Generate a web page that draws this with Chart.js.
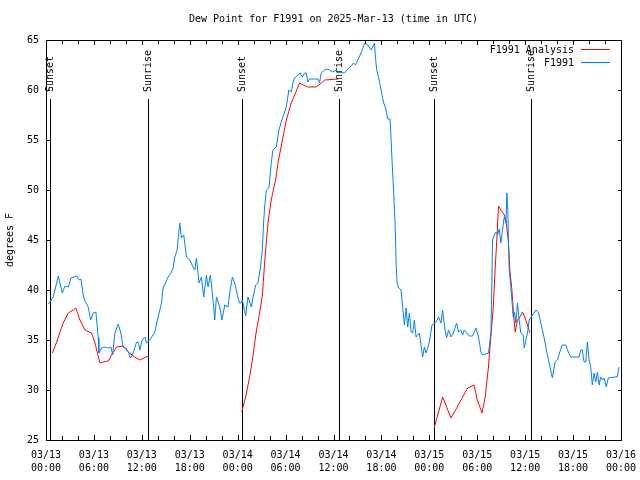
<!DOCTYPE html>
<html>
<head>
<meta charset="utf-8">
<title>Dew Point for F1991</title>
<script src="https://cdn.jsdelivr.net/npm/chart.js@4.4.1/dist/chart.umd.min.js"></script>
<style>
  html, body { margin: 0; padding: 0; background: #fff; }
</style>
</head>
<body>
<canvas id="dewChart" width="640" height="480"></canvas>
<script>
(function () {
  "use strict";

  const FONT = '"DejaVu Sans Mono", "Liberation Mono", monospace';

  const titleText = 'Dew Point for F1991 on 2025-Mar-13 (time in UTC)';
  const yAxisLabel = 'degrees F';

  // hours since 03/13 00:00 UTC
  const xTickLabels = [
    ['03/13', '00:00'], ['03/13', '06:00'], ['03/13', '12:00'], ['03/13', '18:00'],
    ['03/14', '00:00'], ['03/14', '06:00'], ['03/14', '12:00'], ['03/14', '18:00'],
    ['03/15', '00:00'], ['03/15', '06:00'], ['03/15', '12:00'], ['03/15', '18:00'],
    ['03/16', '00:00']
  ];

  const sunHours = [0.5, 12.77, 24.54, 36.69, 48.59, 60.73];
  const sunLabels = ['Sunset', 'Sunrise', 'Sunset', 'Sunrise', 'Sunset', 'Sunrise'];

  const seriesNames = ['F1991 Analysis', 'F1991'];

  // F1991 observations
  const obsHours = [
    0.29, 0.91, 1.54, 2.04, 2.38, 2.79, 3.13, 3.84, 4.16, 4.38, 4.66, 4.88, 5.29, 5.59, 5.91, 6.25,
    6.54, 6.62, 6.96, 7.38, 7.79, 8.13, 8.34, 8.63, 9.04, 9.34, 9.66, 10.0, 10.29, 10.59, 10.91, 11.34,
    11.59, 11.75, 12.04, 12.38, 12.59, 13.0, 13.63, 14.04, 14.46, 14.66, 15.29, 15.71, 15.91, 16.13, 16.41, 16.75,
    16.96, 17.25, 17.59, 18.0, 18.41, 18.63, 18.84, 19.16, 19.46, 19.75, 20.09, 20.29, 20.59, 20.91, 21.13, 21.34,
    21.75, 22.04, 22.38, 22.79, 23.0, 23.34, 23.63, 24.04, 24.25, 24.46, 24.59, 25.0, 25.29, 25.71, 25.91, 26.25,
    26.54, 26.84, 27.09, 27.25, 27.38, 27.59, 27.91, 28.21, 28.41, 28.84, 29.16, 29.46, 29.88, 30.09, 30.41, 30.71,
    31.0, 31.25, 31.54, 31.84, 32.09, 32.38, 32.59, 32.79, 33.0, 33.63, 34.04, 34.25, 34.46, 34.88, 35.29, 35.5,
    35.91, 36.34, 36.54, 36.96, 37.38, 37.79, 38.21, 38.5, 38.75, 39.04, 39.34, 39.59, 39.88, 40.29, 40.71, 40.91,
    41.13, 41.25, 41.41, 41.66, 41.96, 42.25, 42.59, 42.79, 43.09, 43.21, 43.34, 43.5, 43.71, 43.84, 43.96, 44.16,
    44.46, 44.66, 44.88, 45.09, 45.29, 45.5, 45.71, 45.91, 46.13, 46.34, 46.75, 46.96, 47.16, 47.38, 47.59, 47.79,
    48.0, 48.34, 48.84, 49.16, 49.46, 49.66, 49.96, 50.16, 50.41, 50.71, 51.0, 51.41, 51.66, 51.96, 52.16, 52.38,
    52.59, 53.0, 53.41, 53.84, 54.16, 54.46, 54.66, 55.41, 55.71, 55.84, 55.91, 56.13, 56.34, 56.54, 56.75, 56.96,
    57.16, 57.38, 57.59, 57.71, 57.84, 57.91, 58.0, 58.21, 58.34, 58.5, 58.66, 58.84, 59.04, 59.25, 59.46, 59.75,
    59.88, 60.09, 60.29, 60.5, 60.91, 61.34, 61.66, 61.96, 62.38, 62.66, 63.0, 63.41, 63.75, 64.04, 64.34, 64.66,
    65.09, 65.29, 65.71, 66.75, 66.96, 67.16, 67.38, 67.59, 67.79, 68.0, 68.21, 68.41, 68.63, 68.84, 69.04, 69.25,
    69.46, 69.66, 69.88, 70.16, 70.41, 71.25, 71.54, 71.75
  ];
  const obsDewPoint = [
    38.6, 39.3, 41.4, 39.7, 40.4, 40.3, 41.2, 41.4, 41.0, 41.1, 39.5, 38.9, 38.3, 37.0, 37.7, 37.8,
    35.2, 33.7, 34.2, 34.3, 34.2, 34.3, 33.5, 35.7, 36.6, 35.8, 34.3, 34.2, 33.8, 33.2, 33.7, 34.8,
    34.7, 34.0, 35.0, 35.3, 34.7, 35.0, 35.8, 37.3, 38.7, 40.2, 41.3, 41.8, 42.2, 43.3, 44.0, 46.7,
    45.2, 45.5, 43.3, 43.0, 42.3, 42.0, 43.2, 40.7, 41.3, 39.3, 41.5, 40.3, 41.5, 39.0, 37.0, 39.3,
    38.3, 37.0, 38.5, 38.3, 39.7, 41.3, 40.7, 39.2, 38.7, 38.7, 39.0, 37.4, 39.3, 38.3, 39.2, 40.5,
    40.7, 42.2, 44.0, 46.8, 48.3, 50.0, 50.2, 52.7, 54.0, 54.3, 56.0, 56.8, 57.8, 58.3, 60.0, 59.8,
    61.0, 61.3, 61.5, 61.7, 61.3, 61.7, 61.7, 60.8, 61.1, 61.1, 61.1, 60.7, 61.7, 62.0, 62.1, 62.0,
    61.8, 62.0, 61.7, 61.8, 61.7, 62.1, 62.4, 62.7, 62.5, 63.0, 63.5, 64.0, 64.7, 64.5, 64.0, 64.3,
    64.7, 63.3, 62.0, 61.2, 60.0, 58.8, 58.0, 57.1, 57.1, 55.0, 52.8, 50.3, 46.7, 42.8, 40.7, 40.2,
    40.0, 38.3, 36.5, 38.2, 36.3, 37.7, 35.8, 35.7, 37.0, 35.3, 35.7, 34.5, 33.3, 34.3, 33.7, 34.2,
    34.8, 36.5, 36.8, 37.3, 36.7, 38.0, 36.0, 35.2, 36.0, 35.3, 35.7, 36.7, 35.8, 36.0, 35.5, 36.0,
    35.8, 35.4, 35.4, 36.2, 35.3, 33.8, 33.5, 33.7, 35.7, 41.0, 45.0, 45.5, 45.8, 45.5, 46.1, 44.7,
    46.0, 47.3, 46.7, 49.7, 47.7, 44.8, 42.0, 40.3, 39.0, 37.3, 37.8, 36.7, 38.7, 37.0, 35.7, 35.5,
    34.2, 35.0, 35.7, 37.0, 37.5, 38.0, 37.8, 36.7, 35.2, 34.0, 32.7, 31.2, 32.8, 33.0, 33.8, 34.5,
    34.5, 34.0, 33.3, 33.3, 34.0, 34.0, 32.8, 32.8, 34.8, 33.0, 32.3, 30.5, 31.7, 30.8, 31.8, 30.5,
    31.3, 31.0, 31.2, 30.3, 31.2, 31.3, 31.3, 32.3
  ];

  // F1991 Analysis (null = break between analysis runs)
  const anlHours = [
    0.8, 1.34, 1.84, 2.16, 2.79, 3.41, 3.75, 4.25, 4.88, 5.7, 6.1, 6.75, 7.16, 7.8, 8.2, 8.84, 9.66, 10.3, 11.1, 11.75, 12.8,
    18.0,
    24.5, 25.0, 25.5, 25.9, 26.3, 26.75, 27.1, 27.4, 27.8, 28.2, 28.75, 29.05, 29.6, 30.1, 30.7, 31.3, 31.75, 32.2, 32.8,
    33.8, 34.5, 34.9, 36.6,
    42.0,
    48.6, 49.67, 50.7, 51.5, 52.16, 52.8, 53.6, 54.0, 54.6, 55.0, 55.4, 55.7, 56.0, 56.25, 56.45, 56.66, 56.96, 57.4,
    57.6, 57.9, 58.08, 58.34, 58.5, 58.75, 59.04, 59.34, 59.66, 60.09, 60.29, 60.6
  ];
  const anlDewPoint = [
    33.7, 34.8, 36.0, 36.7, 37.7, 38.0, 38.2, 37.0, 36.0, 35.7, 34.8, 32.7, 32.8, 32.9, 33.5, 34.3, 34.4, 33.8, 33.3, 33.0, 33.4,
    null,
    27.8, 29.3, 31.3, 33.3, 35.7, 37.7, 39.5, 43.0, 46.7, 49.0, 51.0, 52.7, 55.0, 57.0, 58.7, 59.8, 60.7, 60.5, 60.3,
    60.3, 60.7, 61.0, 61.1,
    null,
    26.2, 29.3, 27.2, 28.3, 29.3, 30.2, 30.5, 29.0, 27.7, 29.3, 32.3, 35.3, 38.2, 42.3, 45.0, 48.4, 48.0, 47.5,
    47.0, 44.8, 42.0, 40.0, 38.0, 35.8, 37.0, 37.3, 37.8, 37.0, 36.5, 35.7
  ];

  const seriesColors = ['#ff0000', '#0080ff'];

  function toPoints(hours, values) {
    return hours.map((h, i) => ({x: h, y: values[i]}));
  }

  const decor = {
    id: 'decor',
    beforeDatasetsDraw(chart) {
      const {ctx, chartArea: a, scales: {x}} = chart;
      ctx.save();
      ctx.strokeStyle = '#000';
      ctx.fillStyle = '#000';
      ctx.lineWidth = 1;
      ctx.font = '10px ' + FONT;
      sunHours.forEach((h, i) => {
        const px = Math.round(x.getPixelForValue(h)) + 0.5;
        ctx.beginPath();
        ctx.moveTo(px, 99);
        ctx.lineTo(px, a.bottom);
        ctx.stroke();
        ctx.save();
        ctx.translate(px, 92);
        ctx.rotate(-Math.PI / 2);
        ctx.textAlign = 'left';
        ctx.textBaseline = 'middle';
        ctx.fillText(sunLabels[i], 0, 0);
        ctx.restore();
      });
      ctx.restore();
    },
    afterDraw(chart) {
      const {ctx, chartArea: a, scales: {x, y}} = chart;
      ctx.save();
      ctx.strokeStyle = '#000';
      ctx.lineWidth = 1;
      ctx.strokeRect(a.left + 0.5, a.top + 0.5, a.right - a.left, a.bottom - a.top);

      ctx.beginPath();
      for (let h = 0; h <= 72; h += 2) {
        const px = Math.round(x.getPixelForValue(h)) + 0.5;
        const len = h % 6 === 0 ? 5 : 4;
        ctx.moveTo(px, a.bottom);
        ctx.lineTo(px, a.bottom - len);
        ctx.moveTo(px, a.top);
        ctx.lineTo(px, a.top + len);
      }
      for (let v = 25; v <= 65; v += 5) {
        const py = Math.round(y.getPixelForValue(v)) + 0.5;
        ctx.moveTo(a.left, py);
        ctx.lineTo(a.left + 4, py);
        ctx.moveTo(a.right + 1, py);
        ctx.lineTo(a.right - 3, py);
      }
      ctx.stroke();

      ctx.fillStyle = '#000';
      ctx.font = '10px ' + FONT;
      ctx.textAlign = 'center';
      ctx.textBaseline = 'middle';
      ctx.fillText(titleText, (a.left + a.right) / 2, 19);

      ctx.textAlign = 'right';
      seriesNames.forEach((name, i) => {
        const ly = 49.5 + i * 13;
        ctx.fillStyle = '#000';
        ctx.fillText(name, 574, ly + 0.5);
        ctx.strokeStyle = seriesColors[i];
        ctx.beginPath();
        ctx.moveTo(581, ly);
        ctx.lineTo(610, ly);
        ctx.stroke();
      });
      ctx.restore();
    }
  };

  new Chart(document.getElementById('dewChart'), {
    type: 'line',
    data: {
      datasets: [
        {
          label: seriesNames[1],
          data: toPoints(obsHours, obsDewPoint),
          borderColor: seriesColors[1],
          borderWidth: 1,
          pointRadius: 0,
          tension: 0,
          order: 0
        },
        {
          label: seriesNames[0],
          data: toPoints(anlHours, anlDewPoint),
          borderColor: seriesColors[0],
          borderWidth: 1,
          pointRadius: 0,
          tension: 0,
          spanGaps: false,
          order: 1
        }
      ]
    },
    options: {
      responsive: false,
      animation: false,
      events: [],
      layout: {
        autoPadding: false,
        padding: {top: 40, right: 19, bottom: 0, left: 0}
      },
      plugins: {
        legend: {display: false},
        title: {display: false},
        tooltip: {enabled: false}
      },
      scales: {
        x: {
          type: 'linear',
          min: 0,
          max: 72,
          grid: {display: false, drawTicks: false},
          border: {display: false},
          ticks: {
            stepSize: 6,
            autoSkip: false,
            maxRotation: 0,
            padding: 9,
            color: '#000',
            font: {family: FONT, size: 10, lineHeight: 1.3},
            callback: v => xTickLabels[Math.round(v / 6)]
          },
          afterFit: scale => {
            scale.height = 40;
            scale.paddingLeft = 0;
            scale.paddingRight = 0;
          }
        },
        y: {
          min: 25,
          max: 65,
          grid: {display: false, drawTicks: false},
          border: {display: false},
          ticks: {
            stepSize: 5,
            padding: 7,
            color: '#000',
            font: {family: FONT, size: 10}
          },
          title: {
            display: true,
            text: yAxisLabel,
            color: '#000',
            font: {family: FONT, size: 10},
            padding: {top: 4, bottom: 0}
          },
          afterFit: scale => {
            scale.width = 46;
            scale.paddingTop = 0;
            scale.paddingBottom = 0;
          }
        }
      }
    },
    plugins: [decor]
  });
})();
</script>
</body>
</html>
